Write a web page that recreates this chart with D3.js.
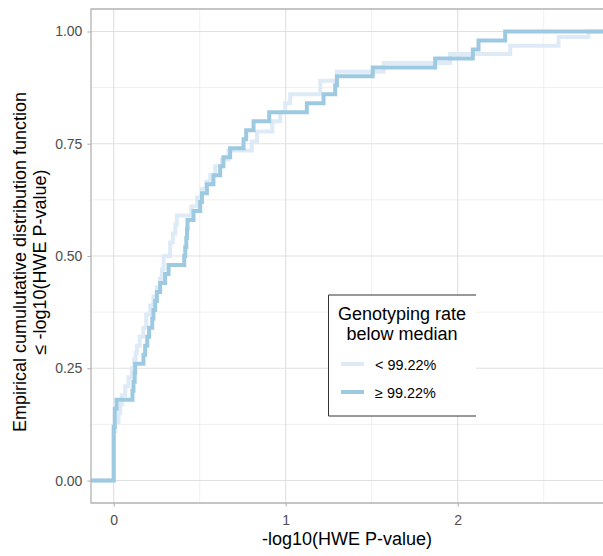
<!DOCTYPE html>
<html>
<head>
<meta charset="utf-8">
<script src="https://cdn.jsdelivr.net/npm/d3@7"></script>
<style>
  body { margin: 0; background: #fff; }
  text { font-family: "Liberation Sans", Arial, sans-serif; }
</style>
</head>
<body>
<svg width="603" height="556"></svg>
<script>
// ECDF jumps: x = -log10(HWE P), y = level after the jump
var lowX = [0.000, 0.009, 0.028, 0.038, 0.048, 0.067, 0.086, 0.106, 0.119, 0.128, 0.135, 0.151, 0.172,
            0.189, 0.212, 0.231, 0.251, 0.270, 0.280, 0.290, 0.328, 0.344, 0.358, 0.367, 0.451, 0.485,
            0.512, 0.538, 0.561, 0.590, 0.629, 0.667, 0.803, 0.833, 0.922, 0.968, 0.997, 1.026, 1.201,
            1.297, 1.569, 1.956, 2.305, 2.586, 2.760];
var lowY = [0.11, 0.13, 0.15, 0.17, 0.19, 0.21, 0.23, 0.25, 0.27, 0.285, 0.30, 0.32, 0.34,
            0.37, 0.39, 0.41, 0.43, 0.45, 0.47, 0.50, 0.53, 0.55, 0.57, 0.59, 0.61, 0.63,
            0.65, 0.665, 0.68, 0.70, 0.715, 0.735, 0.755, 0.777, 0.80, 0.82, 0.84, 0.86, 0.89,
            0.91, 0.93, 0.95, 0.968, 0.9875, 1.00];

var highX = [0.000, 0.006, 0.017, 0.109, 0.115, 0.122, 0.125, 0.173, 0.183, 0.195, 0.206, 0.224, 0.231,
             0.241, 0.251, 0.270, 0.299, 0.319, 0.410, 0.416, 0.422, 0.426, 0.429, 0.464, 0.503, 0.513,
             0.542, 0.580, 0.619, 0.638, 0.677, 0.755, 0.770, 0.813, 0.904, 1.123, 1.220, 1.288, 1.298,
             1.506, 1.869, 2.088, 2.121, 2.276];
var highY = [0.12, 0.16, 0.18, 0.20, 0.22, 0.24, 0.26, 0.28, 0.30, 0.32, 0.34, 0.36, 0.38,
             0.40, 0.42, 0.44, 0.46, 0.48, 0.50, 0.52, 0.54, 0.56, 0.58, 0.60, 0.62, 0.64,
             0.66, 0.68, 0.70, 0.72, 0.74, 0.76, 0.78, 0.80, 0.82, 0.84, 0.86, 0.88, 0.90,
             0.92, 0.94, 0.96, 0.98, 1.00];

var groups = ["< 99.22%", "\u2265 99.22%"];
var colors = ["#deebf7", "#9ecae1"];
var xTicks = [0, 1, 2];
var xMinor = [0.5, 1.5, 2.5];
var yTicks = [0, 0.25, 0.5, 0.75, 1];
var yMinor = [0.125, 0.375, 0.625, 0.875];

var svg = d3.select("svg");

// panel edges
var pLeft = 91, pTop = 9, pBottom = 503;
var x = d3.scaleLinear().domain([-0.132, 2.898]).range([pLeft, pLeft + 3.03 * 172]);
var y = d3.scaleLinear().domain([-0.05, 1.05]).range([pBottom, pTop]);
var pRight = x.range()[1];

svg.append("clipPath").attr("id", "panel")
    .append("rect").attr("x", pLeft).attr("y", pTop)
    .attr("width", pRight - pLeft).attr("height", pBottom - pTop);

var grid = svg.append("g");
// minor grid
grid.selectAll(".xm").data(xMinor).enter().append("line")
    .attr("x1", d => x(d)).attr("x2", d => x(d)).attr("y1", pTop).attr("y2", pBottom)
    .attr("stroke", "#ebebeb").attr("stroke-width", 0.8);
grid.selectAll(".ym").data(yMinor).enter().append("line")
    .attr("x1", pLeft).attr("x2", pRight).attr("y1", d => y(d)).attr("y2", d => y(d))
    .attr("stroke", "#ebebeb").attr("stroke-width", 0.8);
// major grid
grid.selectAll(".xg").data(xTicks).enter().append("line")
    .attr("x1", d => x(d)).attr("x2", d => x(d)).attr("y1", pTop).attr("y2", pBottom)
    .attr("stroke", "#e0e0e0").attr("stroke-width", 1.1);
grid.selectAll(".yg").data(yTicks).enter().append("line")
    .attr("x1", pLeft).attr("x2", pRight).attr("y1", d => y(d)).attr("y2", d => y(d))
    .attr("stroke", "#e0e0e0").attr("stroke-width", 1.1);

// step curves (padded to the panel edges like stat_ecdf)
function stepPoints(xs, ys) {
    var pts = [[x.domain()[0], 0]];
    xs.forEach(function (d, i) { pts.push([d, ys[i]]); });
    pts.push([x.domain()[1], ys[ys.length - 1]]);
    return pts;
}
var line = d3.line()
    .x(d => x(d[0]))
    .y(d => y(d[1]))
    .curve(d3.curveStepAfter);

var series = [stepPoints(lowX, lowY), stepPoints(highX, highY)];
svg.append("g").attr("clip-path", "url(#panel)")
    .selectAll("path").data(series).enter().append("path")
    .attr("d", line)
    .attr("fill", "none")
    .attr("stroke", (d, i) => colors[i])
    .attr("stroke-width", 4);

// panel border (top, left, bottom)
svg.append("path")
    .attr("d", "M" + pRight + "," + pTop + "H" + pLeft + "V" + pBottom + "H" + pRight)
    .attr("fill", "none").attr("stroke", "#b3b3b3").attr("stroke-width", 1.3);

// axes
var xaxis = svg.append("g")
    .attr("transform", "translate(0," + pBottom + ")")
    .call(d3.axisBottom(x).tickValues(xTicks).tickFormat(d3.format("d")).tickSize(3.6).tickPadding(8));
var yaxis = svg.append("g")
    .attr("transform", "translate(" + pLeft + ",0)")
    .call(d3.axisLeft(y).tickValues(yTicks).tickFormat(d3.format(".2f")).tickSize(3.6).tickPadding(5));

[xaxis, yaxis].forEach(function (a) {
    a.select(".domain").remove();
    a.selectAll("line").attr("stroke", "#b3b3b3").attr("stroke-width", 1.1);
    a.selectAll("text").attr("fill", "#4d4d4d").attr("font-size", "14px")
        .attr("font-family", "Liberation Sans, Arial, sans-serif");
});

// axis titles
svg.append("text")
    .attr("x", (pLeft + 603) / 2).attr("y", 545)
    .attr("text-anchor", "middle").attr("font-size", "18px").attr("fill", "#000")
    .text("-log10(HWE P-value)");

var yt = svg.append("text")
    .attr("transform", "translate(0,262) rotate(-90)")
    .attr("text-anchor", "middle").attr("font-size", "18px").attr("fill", "#000");
yt.append("tspan").attr("x", 0).attr("y", 26).text("Empirical cumulutative distribution function");
yt.append("tspan").attr("x", 0).attr("y", 46).text("\u2264 -log10(HWE P-value)");

// legend
var lg = svg.append("g");
lg.append("rect").attr("x", 328).attr("y", 295).attr("width", 148).attr("height", 121).attr("fill", "#fff");
lg.append("path")
    .attr("d", "M476,295H328.5V416H476")
    .attr("fill", "none").attr("stroke", "#333").attr("stroke-width", 1);
lg.append("text").attr("x", 402).attr("y", 320).attr("text-anchor", "middle")
    .attr("font-size", "18px").attr("fill", "#000").text("Genotyping rate");
lg.append("text").attr("x", 402).attr("y", 340).attr("text-anchor", "middle")
    .attr("font-size", "18px").attr("fill", "#000").text("below median");

var keys = lg.selectAll(".key").data(groups).enter().append("g")
    .attr("transform", (d, i) => "translate(0," + (364 + i * 28) + ")");
keys.append("line").attr("x1", 341).attr("x2", 364).attr("y1", 0).attr("y2", 0)
    .attr("stroke", (d, i) => colors[i]).attr("stroke-width", 4);
keys.append("text").attr("x", 375).attr("y", 6)
    .attr("font-size", "14.4px").attr("fill", "#000").text(d => d);
</script>
</body>
</html>
